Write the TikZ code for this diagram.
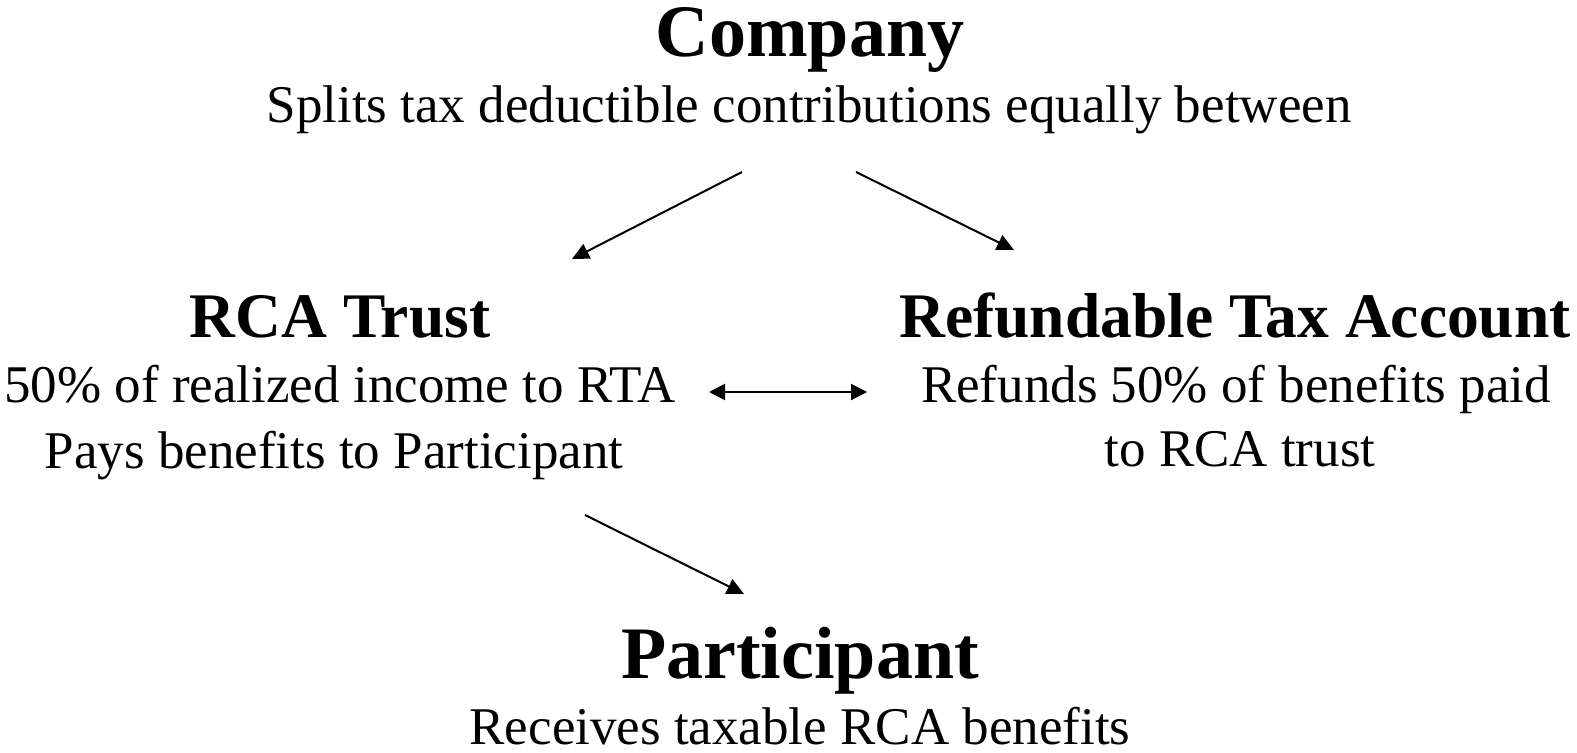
\documentclass[tikz,border=0pt]{standalone}
\usepackage{fontspec}
\setmainfont{Liberation Serif}
\usetikzlibrary{arrows.meta}

\tikzset{
	head/.style={font=\bfseries\fontsize{37}{44}\selectfont, anchor=base, inner sep=0pt},
	subhead/.style={font=\bfseries\fontsize{31.75}{38}\selectfont, anchor=base, inner sep=0pt},
	body/.style={font=\fontsize{26.5}{32}\selectfont, anchor=base, inner sep=0pt},
	flow/.style={-{Triangle[length=8.5pt,width=8pt]}, line width=1pt},
	swap/.style={{Triangle[length=8pt,width=8pt]}-{Triangle[length=8pt,width=8pt]}, line width=1pt}
}

\begin{document}
\begin{tikzpicture}[x=0.5pt,y=-0.5pt]
		\useasboundingbox (0,0) rectangle (1577,753);
		
		% company
		\node[head] (company) at (810,57) {Company};
		\node[body] (companyA) at (809,123) {Splits tax deductible contributions equally between};
		
		% RCA trust
		\node[subhead] (trust) at (340,337) {RCA Trust};
		\node[body] (trustA) at (340,402) {50\% of realized income to RTA};
		\node[body] (trustB) at (334,468) {Pays benefits to Participant};
		
		% refundable tax account
		\node[subhead] (rta) at (1235,337) {Refundable Tax Account};
		\node[body] (rtaA) at (1236,402) {Refunds 50\% of benefits paid};
		\node[body] (rtaB) at (1240,466) {to RCA trust};
		
		% participant
		\node[head] (part) at (800,678) {Participant};
		\node[body] (partA) at (800,744) {Receives taxable RCA benefits};
		
		\coordinate (S1) at (742,172);
		\coordinate (E1) at (572,259);
		\coordinate (S2) at (856,172);
		\coordinate (E2) at (1014,250);
		\coordinate (L) at (709,392);
		\coordinate (R) at (867,392);
		\coordinate (S3) at (585,515);
		\coordinate (E3) at (744,594);
		
		\draw[flow] (S1) -- (E1);
		\draw[flow] (S2) -- (E2);
		\draw[swap] (L) -- (R);
		\draw[flow] (S3) -- (E3);
	\end{tikzpicture}
\end{document}
